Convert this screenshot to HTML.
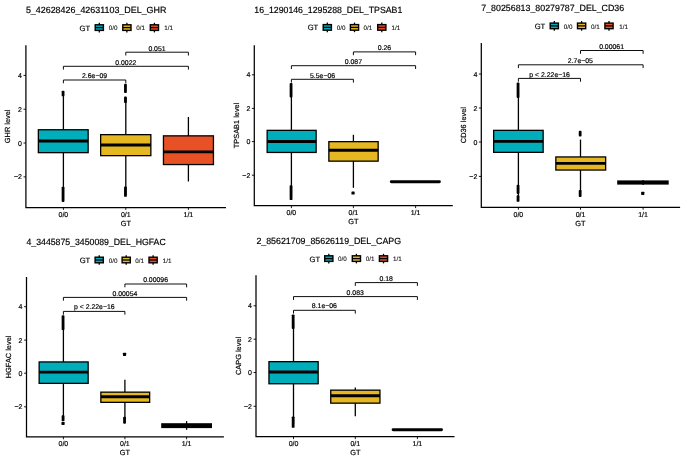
<!DOCTYPE html>
<html><head><meta charset="utf-8"><title>boxplots</title>
<style>
html,body{margin:0;padding:0;background:#fff;}
body{width:685px;height:461px;overflow:hidden;font-family:"Liberation Sans",sans-serif;}
svg{display:block;will-change:transform;}
svg text{text-rendering:geometricPrecision;font-family:"Liberation Sans",sans-serif;fill:#000;stroke:#000;stroke-width:0.18px;}
</style></head><body>
<svg width="685" height="461" viewBox="0 0 685 461">
<rect width="685" height="461" fill="#fff"/>
<g>
<text x="25.9" y="13.1" font-size="9" textLength="140.5" lengthAdjust="spacingAndGlyphs">5_42628426_42631103_DEL_GHR</text>
<text x="79.6" y="30.65" font-size="7.6">GT</text>
<line x1="99.3" y1="22.8" x2="99.3" y2="32.4" stroke="#000" stroke-width="1.3"/>
<rect x="95.2" y="24.8" width="8.2" height="5.6" fill="#00ADBA" stroke="#000" stroke-width="1.4"/>
<line x1="95.3" y1="27.6" x2="103.3" y2="27.6" stroke="#000" stroke-width="1.3"/>
<text x="108.8" y="30.3" font-size="6.3" style="fill:#222;stroke-width:0.12px">0/0</text>
<line x1="126.9" y1="22.8" x2="126.9" y2="32.4" stroke="#000" stroke-width="1.3"/>
<rect x="122.8" y="24.8" width="8.2" height="5.6" fill="#E5B822" stroke="#000" stroke-width="1.4"/>
<line x1="122.9" y1="27.6" x2="130.9" y2="27.6" stroke="#000" stroke-width="1.3"/>
<text x="136.2" y="30.3" font-size="6.3" style="fill:#222;stroke-width:0.12px">0/1</text>
<line x1="154.4" y1="22.8" x2="154.4" y2="32.4" stroke="#000" stroke-width="1.3"/>
<rect x="150.3" y="24.8" width="8.2" height="5.6" fill="#E85026" stroke="#000" stroke-width="1.4"/>
<line x1="150.4" y1="27.6" x2="158.4" y2="27.6" stroke="#000" stroke-width="1.3"/>
<text x="164.2" y="30.3" font-size="6.3" style="fill:#222;stroke-width:0.12px">1/1</text>
<path d="M125.8 55.5V52.2H188.4V55.5" fill="none" stroke="#000" stroke-width="0.95"/>
<text x="157" y="50.6" font-size="6.9" text-anchor="middle">0.051</text>
<path d="M63.4 69.6V66.3H188.4V69.6" fill="none" stroke="#000" stroke-width="0.95"/>
<text x="125.8" y="64.5" font-size="6.9" text-anchor="middle">0.0022</text>
<path d="M63.4 83.3V80H125.8V83.3" fill="none" stroke="#000" stroke-width="0.95"/>
<text x="94.6" y="78" font-size="6.9" text-anchor="middle">2.6e−09</text>
<line x1="63.4" y1="93" x2="63.4" y2="200" stroke="#000" stroke-width="1.3"/>
<rect x="38.35" y="129.75" width="49.8" height="22.9" fill="#00ADBA" stroke="#000" stroke-width="1.3"/>
<line x1="38.35" y1="141" x2="88.15" y2="141" stroke="#000" stroke-width="2.9"/>
<rect x="61.65" y="90.7" width="2.8" height="5.6" rx="0.9" fill="#000"/>
<rect x="61.65" y="186.7" width="2.8" height="15.3" rx="0.9" fill="#000"/>
<line x1="125.8" y1="98" x2="125.8" y2="195" stroke="#000" stroke-width="1.3"/>
<rect x="100.65" y="134.65" width="50.2" height="21" fill="#E5B822" stroke="#000" stroke-width="1.3"/>
<line x1="100.65" y1="145" x2="150.85" y2="145" stroke="#000" stroke-width="2.9"/>
<rect x="124.05" y="83.8" width="2.8" height="9.1" rx="0.9" fill="#000"/>
<rect x="124.05" y="96.5" width="2.8" height="6.5" rx="0.9" fill="#000"/>
<rect x="124.05" y="186.6" width="2.8" height="10.2" rx="0.9" fill="#000"/>
<line x1="188.4" y1="117" x2="188.4" y2="181.5" stroke="#000" stroke-width="1.3"/>
<rect x="163.45" y="135.85" width="50" height="28.7" fill="#E85026" stroke="#000" stroke-width="1.3"/>
<line x1="163.45" y1="151.9" x2="213.45" y2="151.9" stroke="#000" stroke-width="2.9"/>
<path d="M25.9 45.2V207.5H226" fill="none" stroke="#000" stroke-width="1.25" stroke-linejoin="miter"/>
<line x1="23.5" y1="75.4" x2="25.9" y2="75.4" stroke="#000" stroke-width="0.9"/>
<text x="21.9" y="77.9" font-size="7" text-anchor="end" fill="#111">4</text>
<line x1="23.5" y1="109.2" x2="25.9" y2="109.2" stroke="#000" stroke-width="0.9"/>
<text x="21.9" y="111.7" font-size="7" text-anchor="end" fill="#111">2</text>
<line x1="23.5" y1="143" x2="25.9" y2="143" stroke="#000" stroke-width="0.9"/>
<text x="21.9" y="145.5" font-size="7" text-anchor="end" fill="#111">0</text>
<line x1="23.5" y1="176.9" x2="25.9" y2="176.9" stroke="#000" stroke-width="0.9"/>
<text x="21.9" y="179.4" font-size="7" text-anchor="end" fill="#111">−2</text>
<line x1="63.4" y1="207.5" x2="63.4" y2="209.9" stroke="#000" stroke-width="0.9"/>
<text x="63.4" y="217" font-size="7" text-anchor="middle" fill="#111">0/0</text>
<line x1="125.8" y1="207.5" x2="125.8" y2="209.9" stroke="#000" stroke-width="0.9"/>
<text x="125.8" y="217" font-size="7" text-anchor="middle" fill="#111">0/1</text>
<line x1="188.4" y1="207.5" x2="188.4" y2="209.9" stroke="#000" stroke-width="0.9"/>
<text x="188.4" y="217" font-size="7" text-anchor="middle" fill="#111">1/1</text>
<text x="125.8" y="225.7" font-size="7.4" text-anchor="middle">GT</text>
<text transform="translate(10.3 126.35) rotate(-90)" font-size="7.4" text-anchor="middle">GHR level</text>
</g>
<g>
<text x="254.3" y="13.1" font-size="9" textLength="148" lengthAdjust="spacingAndGlyphs">16_1290146_1295288_DEL_TPSAB1</text>
<text x="307.7" y="30.45" font-size="7.6">GT</text>
<line x1="327.3" y1="22.6" x2="327.3" y2="32.2" stroke="#000" stroke-width="1.3"/>
<rect x="323.2" y="24.6" width="8.2" height="5.6" fill="#00ADBA" stroke="#000" stroke-width="1.4"/>
<line x1="323.3" y1="27.4" x2="331.3" y2="27.4" stroke="#000" stroke-width="1.3"/>
<text x="336.8" y="30.1" font-size="6.3" style="fill:#222;stroke-width:0.12px">0/0</text>
<line x1="354.5" y1="22.6" x2="354.5" y2="32.2" stroke="#000" stroke-width="1.3"/>
<rect x="350.4" y="24.6" width="8.2" height="5.6" fill="#E5B822" stroke="#000" stroke-width="1.4"/>
<line x1="350.5" y1="27.4" x2="358.5" y2="27.4" stroke="#000" stroke-width="1.3"/>
<text x="363.6" y="30.1" font-size="6.3" style="fill:#222;stroke-width:0.12px">0/1</text>
<line x1="381.8" y1="22.6" x2="381.8" y2="32.2" stroke="#000" stroke-width="1.3"/>
<rect x="377.7" y="24.6" width="8.2" height="5.6" fill="#E85026" stroke="#000" stroke-width="1.4"/>
<line x1="377.8" y1="27.4" x2="385.8" y2="27.4" stroke="#000" stroke-width="1.3"/>
<text x="391.5" y="30.1" font-size="6.3" style="fill:#222;stroke-width:0.12px">1/1</text>
<path d="M353.4 55.2V51.9H415.6V55.2" fill="none" stroke="#000" stroke-width="0.95"/>
<text x="384.4" y="50.1" font-size="6.9" text-anchor="middle">0.26</text>
<path d="M291.4 69V65.7H415.6V69" fill="none" stroke="#000" stroke-width="0.95"/>
<text x="353.4" y="63.8" font-size="6.9" text-anchor="middle">0.087</text>
<path d="M291.4 82.6V79.3H353.4V82.6" fill="none" stroke="#000" stroke-width="0.95"/>
<text x="322.6" y="77.5" font-size="6.9" text-anchor="middle">5.5e−06</text>
<line x1="291.4" y1="90" x2="291.4" y2="198" stroke="#000" stroke-width="1.3"/>
<rect x="267.15" y="130.35" width="49" height="22.1" fill="#00ADBA" stroke="#000" stroke-width="1.3"/>
<line x1="267.15" y1="141.5" x2="316.15" y2="141.5" stroke="#000" stroke-width="2.9"/>
<rect x="289.65" y="83.1" width="2.8" height="14.4" rx="0.9" fill="#000"/>
<rect x="289.65" y="185.2" width="2.8" height="14.9" rx="0.9" fill="#000"/>
<line x1="353.4" y1="134.8" x2="353.4" y2="187.8" stroke="#000" stroke-width="1.3"/>
<rect x="328.85" y="141.65" width="49.3" height="19.5" fill="#E5B822" stroke="#000" stroke-width="1.3"/>
<line x1="328.85" y1="150.3" x2="378.15" y2="150.3" stroke="#000" stroke-width="2.9"/>
<rect x="351.45" y="191.4" width="3.2" height="3.2" rx="0.6" fill="#000"/>
<line x1="391.3" y1="181.7" x2="439.4" y2="181.7" stroke="#000" stroke-width="2.9" stroke-linecap="round"/>
<path d="M254.3 45.2V205.7H452.8" fill="none" stroke="#000" stroke-width="1.25" stroke-linejoin="miter"/>
<line x1="251.9" y1="74.8" x2="254.3" y2="74.8" stroke="#000" stroke-width="0.9"/>
<text x="250.3" y="77.3" font-size="7" text-anchor="end" fill="#111">4</text>
<line x1="251.9" y1="108.4" x2="254.3" y2="108.4" stroke="#000" stroke-width="0.9"/>
<text x="250.3" y="110.9" font-size="7" text-anchor="end" fill="#111">2</text>
<line x1="251.9" y1="141.6" x2="254.3" y2="141.6" stroke="#000" stroke-width="0.9"/>
<text x="250.3" y="144.1" font-size="7" text-anchor="end" fill="#111">0</text>
<line x1="251.9" y1="175.2" x2="254.3" y2="175.2" stroke="#000" stroke-width="0.9"/>
<text x="250.3" y="177.7" font-size="7" text-anchor="end" fill="#111">−2</text>
<line x1="291.4" y1="205.7" x2="291.4" y2="208.1" stroke="#000" stroke-width="0.9"/>
<text x="291.4" y="214.5" font-size="7" text-anchor="middle" fill="#111">0/0</text>
<line x1="353.4" y1="205.7" x2="353.4" y2="208.1" stroke="#000" stroke-width="0.9"/>
<text x="353.4" y="214.5" font-size="7" text-anchor="middle" fill="#111">0/1</text>
<line x1="415.6" y1="205.7" x2="415.6" y2="208.1" stroke="#000" stroke-width="0.9"/>
<text x="415.6" y="214.5" font-size="7" text-anchor="middle" fill="#111">1/1</text>
<text x="353.4" y="223.7" font-size="7.4" text-anchor="middle">GT</text>
<text transform="translate(238.7 125.45) rotate(-90)" font-size="7.4" text-anchor="middle">TPSAB1 level</text>
</g>
<g>
<text x="481.3" y="10.9" font-size="9" textLength="142.9" lengthAdjust="spacingAndGlyphs">7_80256813_80279787_DEL_CD36</text>
<text x="534.7" y="28.95" font-size="7.6">GT</text>
<line x1="554.3" y1="21.1" x2="554.3" y2="30.7" stroke="#000" stroke-width="1.3"/>
<rect x="550.2" y="23.1" width="8.2" height="5.6" fill="#00ADBA" stroke="#000" stroke-width="1.4"/>
<line x1="550.3" y1="25.9" x2="558.3" y2="25.9" stroke="#000" stroke-width="1.3"/>
<text x="563.8" y="28.6" font-size="6.3" style="fill:#222;stroke-width:0.12px">0/0</text>
<line x1="581.6" y1="21.1" x2="581.6" y2="30.7" stroke="#000" stroke-width="1.3"/>
<rect x="577.5" y="23.1" width="8.2" height="5.6" fill="#E5B822" stroke="#000" stroke-width="1.4"/>
<line x1="577.6" y1="25.9" x2="585.6" y2="25.9" stroke="#000" stroke-width="1.3"/>
<text x="591.1" y="28.6" font-size="6.3" style="fill:#222;stroke-width:0.12px">0/1</text>
<line x1="609" y1="21.1" x2="609" y2="30.7" stroke="#000" stroke-width="1.3"/>
<rect x="604.9" y="23.1" width="8.2" height="5.6" fill="#E85026" stroke="#000" stroke-width="1.4"/>
<line x1="605" y1="25.9" x2="613" y2="25.9" stroke="#000" stroke-width="1.3"/>
<text x="619.2" y="28.6" font-size="6.3" style="fill:#222;stroke-width:0.12px">1/1</text>
<path d="M580.5 53.8V50.5H643.1V53.8" fill="none" stroke="#000" stroke-width="0.95"/>
<text x="611.6" y="48.7" font-size="6.9" text-anchor="middle">0.00061</text>
<path d="M518.4 68.1V64.8H643.1V68.1" fill="none" stroke="#000" stroke-width="0.95"/>
<text x="580.4" y="62.7" font-size="6.9" text-anchor="middle">2.7e−05</text>
<path d="M518.4 81.7V78.4H580.5V81.7" fill="none" stroke="#000" stroke-width="0.95"/>
<text x="549.6" y="76.7" font-size="6.9" text-anchor="middle">p < 2.22e−16</text>
<line x1="518.4" y1="90" x2="518.4" y2="198" stroke="#000" stroke-width="1.3"/>
<rect x="493.65" y="130.35" width="49.5" height="22" fill="#00ADBA" stroke="#000" stroke-width="1.3"/>
<line x1="493.65" y1="141.4" x2="543.15" y2="141.4" stroke="#000" stroke-width="2.9"/>
<rect x="516.65" y="82.6" width="2.8" height="15.4" rx="0.9" fill="#000"/>
<rect x="516.65" y="184.8" width="2.8" height="9.2" rx="0.9" fill="#000"/>
<rect x="516.65" y="195.2" width="2.8" height="6.6" rx="0.9" fill="#000"/>
<line x1="580.5" y1="139.6" x2="580.5" y2="192" stroke="#000" stroke-width="1.3"/>
<rect x="555.85" y="156.95" width="49.8" height="13.1" fill="#E5B822" stroke="#000" stroke-width="1.3"/>
<line x1="555.85" y1="163.4" x2="605.65" y2="163.4" stroke="#000" stroke-width="2.9"/>
<rect x="578.75" y="130.8" width="2.8" height="5.6" rx="0.9" fill="#000"/>
<rect x="578.75" y="189.9" width="2.8" height="7" rx="0.9" fill="#000"/>
<line x1="643.1" y1="180" x2="643.1" y2="185" stroke="#000" stroke-width="1.3"/>
<rect x="617.2" y="180.4" width="51.5" height="4.2" fill="#000"/>
<rect x="641.15" y="191.7" width="3.2" height="3.2" rx="0.6" fill="#000"/>
<path d="M481.3 42.9V207.3H680.1" fill="none" stroke="#000" stroke-width="1.25" stroke-linejoin="miter"/>
<line x1="478.9" y1="74" x2="481.3" y2="74" stroke="#000" stroke-width="0.9"/>
<text x="477.3" y="76.5" font-size="7" text-anchor="end" fill="#111">4</text>
<line x1="478.9" y1="108" x2="481.3" y2="108" stroke="#000" stroke-width="0.9"/>
<text x="477.3" y="110.5" font-size="7" text-anchor="end" fill="#111">2</text>
<line x1="478.9" y1="142" x2="481.3" y2="142" stroke="#000" stroke-width="0.9"/>
<text x="477.3" y="144.5" font-size="7" text-anchor="end" fill="#111">0</text>
<line x1="478.9" y1="176.4" x2="481.3" y2="176.4" stroke="#000" stroke-width="0.9"/>
<text x="477.3" y="178.9" font-size="7" text-anchor="end" fill="#111">−2</text>
<line x1="518.4" y1="207.3" x2="518.4" y2="209.7" stroke="#000" stroke-width="0.9"/>
<text x="518.4" y="216.7" font-size="7" text-anchor="middle" fill="#111">0/0</text>
<line x1="580.5" y1="207.3" x2="580.5" y2="209.7" stroke="#000" stroke-width="0.9"/>
<text x="580.5" y="216.7" font-size="7" text-anchor="middle" fill="#111">0/1</text>
<line x1="643.1" y1="207.3" x2="643.1" y2="209.7" stroke="#000" stroke-width="0.9"/>
<text x="643.1" y="216.7" font-size="7" text-anchor="middle" fill="#111">1/1</text>
<text x="580.5" y="225.8" font-size="7.4" text-anchor="middle">GT</text>
<text transform="translate(465.8 125.1) rotate(-90)" font-size="7.4" text-anchor="middle">CD36 level</text>
</g>
<g>
<text x="26.5" y="245.4" font-size="9" textLength="139.2" lengthAdjust="spacingAndGlyphs">4_3445875_3450089_DEL_HGFAC</text>
<text x="79.7" y="263.05" font-size="7.6">GT</text>
<line x1="99.2" y1="255.2" x2="99.2" y2="264.8" stroke="#000" stroke-width="1.3"/>
<rect x="95.1" y="257.2" width="8.2" height="5.6" fill="#00ADBA" stroke="#000" stroke-width="1.4"/>
<line x1="95.2" y1="260" x2="103.2" y2="260" stroke="#000" stroke-width="1.3"/>
<text x="108.8" y="262.7" font-size="6.3" style="fill:#222;stroke-width:0.12px">0/0</text>
<line x1="126.2" y1="255.2" x2="126.2" y2="264.8" stroke="#000" stroke-width="1.3"/>
<rect x="122.1" y="257.2" width="8.2" height="5.6" fill="#E5B822" stroke="#000" stroke-width="1.4"/>
<line x1="122.2" y1="260" x2="130.2" y2="260" stroke="#000" stroke-width="1.3"/>
<text x="135.2" y="262.7" font-size="6.3" style="fill:#222;stroke-width:0.12px">0/1</text>
<line x1="153.1" y1="255.2" x2="153.1" y2="264.8" stroke="#000" stroke-width="1.3"/>
<rect x="149" y="257.2" width="8.2" height="5.6" fill="#E85026" stroke="#000" stroke-width="1.4"/>
<line x1="149.1" y1="260" x2="157.1" y2="260" stroke="#000" stroke-width="1.3"/>
<text x="162.8" y="262.7" font-size="6.3" style="fill:#222;stroke-width:0.12px">1/1</text>
<path d="M124.9 287.3V284H186.6V287.3" fill="none" stroke="#000" stroke-width="0.95"/>
<text x="155.6" y="282.2" font-size="6.9" text-anchor="middle">0.00096</text>
<path d="M63.4 300.7V297.4H186.6V300.7" fill="none" stroke="#000" stroke-width="0.95"/>
<text x="124.9" y="295.9" font-size="6.9" text-anchor="middle">0.00054</text>
<path d="M63.4 314.7V311.4H124.9V314.7" fill="none" stroke="#000" stroke-width="0.95"/>
<text x="94.3" y="309.1" font-size="6.9" text-anchor="middle">p < 2.22e−16</text>
<line x1="63.4" y1="322" x2="63.4" y2="420" stroke="#000" stroke-width="1.3"/>
<rect x="39.15" y="361.95" width="49" height="21.4" fill="#00ADBA" stroke="#000" stroke-width="1.3"/>
<line x1="39.15" y1="372.1" x2="88.15" y2="372.1" stroke="#000" stroke-width="2.9"/>
<rect x="61.65" y="315.2" width="2.8" height="14.9" rx="0.9" fill="#000"/>
<rect x="61.65" y="415.2" width="2.8" height="6.1" rx="0.9" fill="#000"/>
<rect x="61.45" y="422" width="3.2" height="2.9" rx="0.6" fill="#000"/>
<line x1="124.9" y1="379.7" x2="124.9" y2="419" stroke="#000" stroke-width="1.3"/>
<rect x="100.85" y="392.15" width="48.8" height="10.2" fill="#E5B822" stroke="#000" stroke-width="1.3"/>
<line x1="100.85" y1="396.7" x2="149.65" y2="396.7" stroke="#000" stroke-width="2.9"/>
<rect x="122.95" y="352.7" width="3.2" height="3.2" rx="0.6" fill="#000"/>
<rect x="123.15" y="416.7" width="2.8" height="7" rx="0.9" fill="#000"/>
<line x1="186.6" y1="421.1" x2="186.6" y2="429.8" stroke="#000" stroke-width="1.3"/>
<rect x="161.2" y="423.2" width="50.8" height="4.9" fill="#000"/>
<path d="M26.5 277V436.9H223.9" fill="none" stroke="#000" stroke-width="1.25" stroke-linejoin="miter"/>
<line x1="24.1" y1="306.7" x2="26.5" y2="306.7" stroke="#000" stroke-width="0.9"/>
<text x="22.5" y="309.2" font-size="7" text-anchor="end" fill="#111">4</text>
<line x1="24.1" y1="340.1" x2="26.5" y2="340.1" stroke="#000" stroke-width="0.9"/>
<text x="22.5" y="342.6" font-size="7" text-anchor="end" fill="#111">2</text>
<line x1="24.1" y1="373.2" x2="26.5" y2="373.2" stroke="#000" stroke-width="0.9"/>
<text x="22.5" y="375.7" font-size="7" text-anchor="end" fill="#111">0</text>
<line x1="24.1" y1="406.8" x2="26.5" y2="406.8" stroke="#000" stroke-width="0.9"/>
<text x="22.5" y="409.3" font-size="7" text-anchor="end" fill="#111">−2</text>
<line x1="63.4" y1="436.9" x2="63.4" y2="439.3" stroke="#000" stroke-width="0.9"/>
<text x="63.4" y="445.7" font-size="7" text-anchor="middle" fill="#111">0/0</text>
<line x1="124.9" y1="436.9" x2="124.9" y2="439.3" stroke="#000" stroke-width="0.9"/>
<text x="124.9" y="445.7" font-size="7" text-anchor="middle" fill="#111">0/1</text>
<line x1="186.6" y1="436.9" x2="186.6" y2="439.3" stroke="#000" stroke-width="0.9"/>
<text x="186.6" y="445.7" font-size="7" text-anchor="middle" fill="#111">1/1</text>
<text x="124.9" y="454.5" font-size="7.4" text-anchor="middle">GT</text>
<text transform="translate(11.4 356.95) rotate(-90)" font-size="7.4" text-anchor="middle">HGFAC level</text>
</g>
<g>
<text x="256.4" y="244" font-size="9" textLength="144.7" lengthAdjust="spacingAndGlyphs">2_85621709_85626119_DEL_CAPG</text>
<text x="309.5" y="261.65" font-size="7.6">GT</text>
<line x1="328.8" y1="253.8" x2="328.8" y2="263.4" stroke="#000" stroke-width="1.3"/>
<rect x="324.7" y="255.8" width="8.2" height="5.6" fill="#00ADBA" stroke="#000" stroke-width="1.4"/>
<line x1="324.8" y1="258.6" x2="332.8" y2="258.6" stroke="#000" stroke-width="1.3"/>
<text x="338" y="261.3" font-size="6.3" style="fill:#222;stroke-width:0.12px">0/0</text>
<line x1="356.4" y1="253.8" x2="356.4" y2="263.4" stroke="#000" stroke-width="1.3"/>
<rect x="352.3" y="255.8" width="8.2" height="5.6" fill="#E5B822" stroke="#000" stroke-width="1.4"/>
<line x1="352.4" y1="258.6" x2="360.4" y2="258.6" stroke="#000" stroke-width="1.3"/>
<text x="365.7" y="261.3" font-size="6.3" style="fill:#222;stroke-width:0.12px">0/1</text>
<line x1="383.5" y1="253.8" x2="383.5" y2="263.4" stroke="#000" stroke-width="1.3"/>
<rect x="379.4" y="255.8" width="8.2" height="5.6" fill="#E85026" stroke="#000" stroke-width="1.4"/>
<line x1="379.5" y1="258.6" x2="387.5" y2="258.6" stroke="#000" stroke-width="1.3"/>
<text x="393" y="261.3" font-size="6.3" style="fill:#222;stroke-width:0.12px">1/1</text>
<path d="M355.3 285.9V282.6H417.4V285.9" fill="none" stroke="#000" stroke-width="0.95"/>
<text x="386.2" y="280.8" font-size="6.9" text-anchor="middle">0.18</text>
<path d="M293.5 299.9V296.6H417.4V299.9" fill="none" stroke="#000" stroke-width="0.95"/>
<text x="355.2" y="294.6" font-size="6.9" text-anchor="middle">0.083</text>
<path d="M293.5 313.6V310.3H355.3V313.6" fill="none" stroke="#000" stroke-width="0.95"/>
<text x="324.4" y="308.3" font-size="6.9" text-anchor="middle">8.1e−06</text>
<line x1="293.5" y1="322" x2="293.5" y2="424" stroke="#000" stroke-width="1.3"/>
<rect x="268.95" y="361.65" width="49.2" height="22.1" fill="#00ADBA" stroke="#000" stroke-width="1.3"/>
<line x1="268.95" y1="372" x2="318.15" y2="372" stroke="#000" stroke-width="2.9"/>
<rect x="291.75" y="314.4" width="2.8" height="14.5" rx="0.9" fill="#000"/>
<rect x="291.75" y="416.4" width="2.8" height="11.4" rx="0.9" fill="#000"/>
<line x1="355.3" y1="387.6" x2="355.3" y2="416.2" stroke="#000" stroke-width="1.3"/>
<rect x="330.75" y="390.15" width="49.2" height="13" fill="#E5B822" stroke="#000" stroke-width="1.3"/>
<line x1="330.75" y1="395.7" x2="379.95" y2="395.7" stroke="#000" stroke-width="2.9"/>
<line x1="393.1" y1="429.7" x2="441.5" y2="429.7" stroke="#000" stroke-width="2.9" stroke-linecap="round"/>
<path d="M256 275.2V436.7H454.5" fill="none" stroke="#000" stroke-width="1.25" stroke-linejoin="miter"/>
<line x1="253.6" y1="305.8" x2="256" y2="305.8" stroke="#000" stroke-width="0.9"/>
<text x="252" y="308.3" font-size="7" text-anchor="end" fill="#111">4</text>
<line x1="253.6" y1="339.2" x2="256" y2="339.2" stroke="#000" stroke-width="0.9"/>
<text x="252" y="341.7" font-size="7" text-anchor="end" fill="#111">2</text>
<line x1="253.6" y1="372.5" x2="256" y2="372.5" stroke="#000" stroke-width="0.9"/>
<text x="252" y="375" font-size="7" text-anchor="end" fill="#111">0</text>
<line x1="253.6" y1="406.3" x2="256" y2="406.3" stroke="#000" stroke-width="0.9"/>
<text x="252" y="408.8" font-size="7" text-anchor="end" fill="#111">−2</text>
<line x1="293.5" y1="436.7" x2="293.5" y2="439.1" stroke="#000" stroke-width="0.9"/>
<text x="293.5" y="445.7" font-size="7" text-anchor="middle" fill="#111">0/0</text>
<line x1="355.3" y1="436.7" x2="355.3" y2="439.1" stroke="#000" stroke-width="0.9"/>
<text x="355.3" y="445.7" font-size="7" text-anchor="middle" fill="#111">0/1</text>
<line x1="417.4" y1="436.7" x2="417.4" y2="439.1" stroke="#000" stroke-width="0.9"/>
<text x="417.4" y="445.7" font-size="7" text-anchor="middle" fill="#111">1/1</text>
<text x="355.3" y="454.5" font-size="7.4" text-anchor="middle">GT</text>
<text transform="translate(240.8 355.95) rotate(-90)" font-size="7.4" text-anchor="middle">CAPG level</text>
</g>
</svg>
</body></html>
